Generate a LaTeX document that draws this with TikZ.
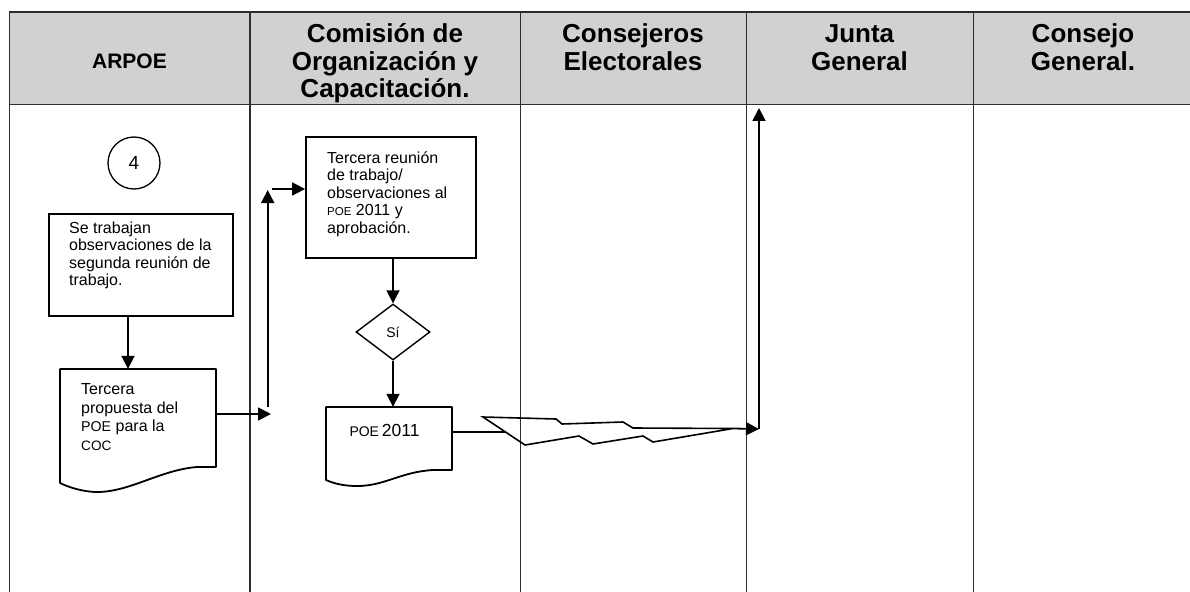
\documentclass[tikz,border=0pt]{standalone}
\usepackage{fontspec}
\setmainfont{Liberation Sans}
\usetikzlibrary{arrows.meta,shapes.geometric,calc}
\definecolor{hdrgray}{RGB}{211,208,211}
\definecolor{laneline}{RGB}{45,45,45}
\begin{document}
\begin{tikzpicture}[x=1pt,y=-1pt,
  lane/.style={draw=laneline,line width=1pt},
  hdr/.style={font=\fontsize{26}{27.5}\selectfont\bfseries,align=center,anchor=north,inner sep=0pt},
  box/.style={draw=black,line width=1.8pt,rectangle,inner sep=0pt},
  ghost/.style={rectangle,inner sep=0pt},
  txt/.style={font=\fontsize{16}{17.6}\selectfont,align=left,anchor=north west,inner sep=0pt},
  docline/.style={draw=black,line width=1.8pt,line join=round},
  flow/.style={draw=black,line width=1.8pt,-{Triangle[length=13pt,width=13pt]}},
  plain/.style={draw=black,line width=1.8pt}
]
\useasboundingbox (0,0) rectangle (1190,591);
% header
\fill[hdrgray] (9,12) rectangle (1200,104.5);
\draw[laneline,line width=1.3pt] (9,12) -- (1200,12);
\draw[laneline,line width=1.3pt] (9,104.5) -- (1200,104.5);
\draw[lane] (9,12) -- (9,600);
\draw[lane,line width=1.4pt] (250,12) -- (250,600);
\draw[lane] (520,12) -- (520,600);
\draw[lane] (746,12) -- (746,600);
\draw[lane] (973,12) -- (973,600);
\node[font=\fontsize{21}{24}\selectfont\bfseries,anchor=base,inner sep=0pt] (h1) at (129.5,68.5) {ARPOE};
\node[hdr] (h2) at (385,23.5) {\strut Comisión de\\Organización y\\Capacitación.};
\node[hdr] (h3) at (633,23.5) {\strut Consejeros\\Electorales};
\node[hdr] (h4) at (859.5,23.5) {\strut Junta\\General};
\node[hdr] (h5) at (1083,23.5) {\strut Consejo\\General.};
% ARPOE lane
\node[draw,circle,line width=1.3pt,minimum size=52pt,inner sep=0pt,font=\fontsize{19}{22}\selectfont] (n4) at (134,163) {4};
\node[box,minimum width=184pt,minimum height=102pt] (b1) at (141,265) {};
\node[txt] (t1) at (69,220.5) {\strut Se trabajan\\observaciones de la\\segunda reunión de\\trabajo.};
\node[ghost,minimum width=156pt,minimum height=98pt] (d1) at (138,418) {};
\draw[docline] (60,369) -- (216,369) -- (216,467) -- (197,467) .. controls (160,470) and (130,492) .. (97,492) .. controls (85,492) and (70,488) .. (60,483) -- cycle;
\node[txt,font=\fontsize{16}{18.5}\selectfont] (t3) at (81,381.5) {\strut Tercera\\propuesta del\\{\fontsize{14.2}{18.5}\selectfont POE} para la\\{\fontsize{13.6}{18.5}\selectfont COC}};
% COC lane
\node[box,minimum width=170pt,minimum height=121pt] (b2) at (391,197.5) {};
\node[txt] (t2) at (327,150.5) {\strut Tercera reunión\\de trabajo/\\observaciones al\\{\fontsize{11.5}{17.6}\selectfont POE} 2011 y\\aprobación.};
\node[draw,diamond,line width=1.4pt,minimum width=74pt,minimum height=56pt,inner sep=0pt,font=\fontsize{14}{16}\selectfont] (dia) at (393,332) {Sí};
\node[ghost,minimum width=126pt,minimum height=63pt] (d2) at (389,438.5) {};
\draw[docline] (326,407) -- (452,407) -- (452,470) -- (433,470) .. controls (400,472) and (385,486) .. (357,486) .. controls (345,486) and (335,484) .. (326,480) -- cycle;
\node[inner sep=0pt,anchor=base] (t4) at (384.5,436.3) {{\fontsize{14}{16}\selectfont POE} {\fontsize{17.5}{20}\selectfont 2011}};
% connectors
\coordinate (x128) at (128,0);
\draw[flow] (b1.south -| x128) -- (d1.north -| x128);
\coordinate (a1) at (271,414);
\draw[flow] (a1 -| d1.east) -- (a1);
\coordinate (a2) at (267.7,407);
\coordinate (a3) at (267.7,190);
\draw[flow] (a2) -- (a3);
\coordinate (a4) at (272,189);
\draw[flow] (a4) -- (a4 -| b2.west);
\draw[flow] (b2.south -| dia) -- (dia.north);
\draw[flow] (dia.south) -- (d2.north -| dia);
% lightning connector
\coordinate (lin) at (505.5,432);
\draw[plain] (lin -| d2.east) -- (lin);
\draw[draw=black,line width=1.6pt,line join=miter] (483,417) -- (556,419) -- (562,424) -- (623,422) -- (633,428) -- (733,428.5) -- (653,442) -- (643,436) -- (593,444) -- (579,436) -- (525,445) -- cycle;
\coordinate (ltip) at (733,428.5);
\coordinate (jin) at (759,429);
\coordinate (jtop) at (759,108);
\draw[flow] (ltip) -- (jin);
\draw[flow] (jin) -- (jtop);
\end{tikzpicture}
\end{document}
